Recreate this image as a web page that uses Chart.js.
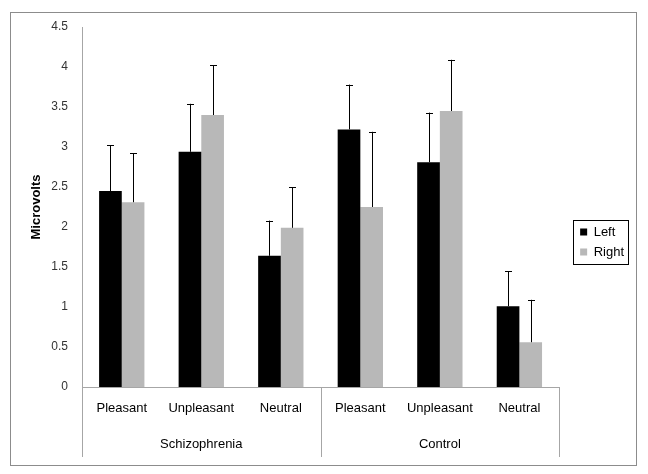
<!DOCTYPE html>
<html>
<head>
<meta charset="utf-8">
<script src="https://cdn.jsdelivr.net/npm/chart.js@4"></script>
<style>
  html, body { margin: 0; padding: 0; background: #fff; }
  #wrap { position: absolute; left: 10px; top: 12px; width: 625px; height: 452px; border: 1px solid #8c8c8c; }
</style>
</head>
<body>
<div id="wrap"><canvas id="c"></canvas></div>
<script>
// Data
const categories = ['Pleasant', 'Unpleasant', 'Neutral', 'Pleasant', 'Unpleasant', 'Neutral'];
const groups = ['Schizophrenia', 'Control'];
const leftValues = [2.45, 2.94, 1.64, 3.22, 2.81, 1.01];
const leftErrors = [0.57, 0.60, 0.44, 0.56, 0.62, 0.44];
const rightValues = [2.31, 3.40, 1.99, 2.25, 3.45, 0.56];
const rightErrors = [0.61, 0.62, 0.51, 0.94, 0.64, 0.53];
const yTicks = [0, 0.5, 1, 1.5, 2, 2.5, 3, 3.5, 4, 4.5];

const axisGray = '#a6a6a6';
const font = 'Liberation Sans, Arial, sans-serif';

// Error bars (upper only) drawn from each bar's top
const errorBars = {
  id: 'errorBars',
  afterDatasetsDraw(chart) {
    const ctx = chart.ctx;
    const y = chart.scales.y;
    chart.data.datasets.forEach((ds, i) => {
      chart.getDatasetMeta(i).data.forEach((bar, j) => {
        const top = y.getPixelForValue(ds.data[j] + ds.errors[j]);
        ctx.save();
        ctx.strokeStyle = '#000';
        ctx.lineWidth = 1;
        ctx.beginPath();
        ctx.moveTo(Math.round(bar.x) + 0.5, bar.y);
        ctx.lineTo(Math.round(bar.x) + 0.5, top);
        ctx.moveTo(Math.round(bar.x) - 3, Math.round(top) + 0.5);
        ctx.lineTo(Math.round(bar.x) + 4, Math.round(top) + 0.5);
        ctx.stroke();
        ctx.restore();
      });
    });
  }
};

// Second level of the category axis + box around legend
const groupAxis = {
  id: 'groupAxis',
  afterDraw(chart) {
    const ctx = chart.ctx;
    const x = chart.scales.x;
    const bottom = x.bottom;
    const per = categories.length / groups.length;
    ctx.save();
    ctx.strokeStyle = axisGray;
    ctx.lineWidth = 1;
    const seps = [x.left];
    for (let g = 1; g < groups.length; g++) {
      seps.push((x.getPixelForValue(g * per - 1) + x.getPixelForValue(g * per)) / 2);
    }
    seps.push(x.right);
    ctx.beginPath();
    seps.forEach(px => {
      ctx.moveTo(Math.round(px) + 0.5, x.top);
      ctx.lineTo(Math.round(px) + 0.5, bottom);
    });
    ctx.stroke();
    ctx.fillStyle = '#000';
    ctx.font = '13px ' + font;
    ctx.textAlign = 'center';
    ctx.textBaseline = 'middle';
    groups.forEach((g, k) => {
      const cx = (x.getPixelForValue(k * per) + x.getPixelForValue(k * per + per - 1)) / 2;
      ctx.fillText(g, cx, x.top + 57);
    });
    // legend border
    const hb = chart.legend.legendHitBoxes;
    if (hb && hb.length) {
      const l = hb[0].left - 7;
      const t = hb[0].top - 6;
      const b = hb[hb.length - 1].top + hb[hb.length - 1].height + 5;
      ctx.strokeStyle = '#000';
      ctx.strokeRect(Math.round(l) + 0.5, Math.round(t) + 0.5, 55, Math.round(b - t));
    }
    ctx.restore();
  }
};

new Chart(document.getElementById('c'), {
  type: 'bar',
  data: {
    labels: categories,
    datasets: [
      { label: 'Left', data: leftValues, errors: leftErrors, backgroundColor: '#000000' },
      { label: 'Right', data: rightValues, errors: rightErrors, backgroundColor: '#b8b8b8' }
    ]
  },
  options: {
    responsive: true,
    maintainAspectRatio: false,
    animation: false,
    categoryPercentage: 0.57,
    barPercentage: 1.0,
    layout: { padding: { top: 14, bottom: 8, left: 0, right: 2 } },
    plugins: {
      tooltip: { enabled: false },
      legend: {
        position: 'right',
        labels: {
          boxWidth: 7, boxHeight: 7, padding: 7,
          color: '#000', font: { family: font, size: 13 }
        }
      }
    },
    scales: {
      x: {
        grid: { display: false, drawTicks: false },
        border: { display: true, color: axisGray },
        ticks: { color: '#000', font: { family: font, size: 13 }, padding: 14, maxRotation: 0, autoSkip: false },
        afterFit(s) { s.height = 70; }
      },
      y: {
        min: 0, max: 4.5,
        afterBuildTicks(s) { s.ticks = yTicks.map(v => ({ value: v })); },
        grid: { display: false, drawTicks: false },
        border: { display: true, color: axisGray },
        ticks: { color: '#333', font: { family: font, size: 12 }, padding: 14, callback: v => String(+v.toFixed(1)) },
        title: { display: true, text: 'Microvolts', color: '#000', font: { family: font, size: 13, weight: 'bold' }, padding: { top: 18, bottom: 0 } },
        afterFit(s) { s.width = 71; s.paddingTop = 0; s.paddingBottom = 0; }
      },
      gap: {
        position: 'right',
        display: true,
        grid: { display: false, drawTicks: false },
        border: { display: false },
        ticks: { display: false },
        afterFit(s) { s.width = 14; }
      }
    }
  },
  plugins: [errorBars, groupAxis]
});
</script>
</body>
</html>
